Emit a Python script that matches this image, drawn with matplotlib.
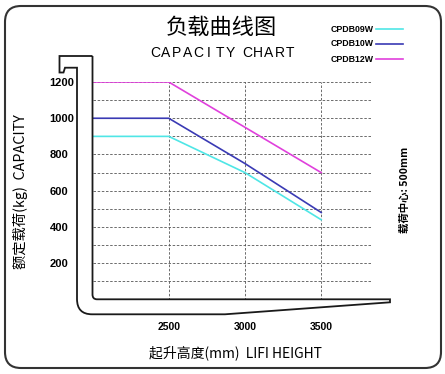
import matplotlib
matplotlib.use("Agg")
import matplotlib.pyplot as plt
from matplotlib.path import Path
from matplotlib.patches import PathPatch, FancyBboxPatch
from matplotlib import transforms

# data
heights_09 = [2000, 2500, 3000, 3500]
cap_09 = [900, 900, 700, 440]
heights_10 = [2000, 2500, 3000, 3500]
cap_10 = [1000, 1000, 750, 480]
heights_12 = [2000, 2500, 3500]
cap_12 = [1200, 1200, 700]
models = ["CPDB09W", "CPDB10W", "CPDB12W"]
x_ticks = [2500, 3000, 3500]
y_ticks = [200, 400, 600, 800, 1000, 1200]

C09 = "#4fe6e6"
C10 = "#3a3ab4"
C12 = "#e040dc"
CJK = ["Noto Sans CJK SC", "DejaVu Sans"]
LAT = ["Liberation Sans", "DejaVu Sans"]

W, H = 445, 374
fig = plt.figure(figsize=(W / 100, H / 100), dpi=100)
px = transforms.Affine2D().scale(1 / W, -1 / H).translate(0, 1) + fig.transFigure

ax = fig.add_axes([92.5 / W, (H - 299.5) / H, 279.5 / W, 217.5 / H])
ax.set_xlim(2000, 3833)
ax.set_ylim(0, 1200)
for s in ax.spines.values():
    s.set_visible(False)

# dashed grid
for yv in range(100, 1300, 100):
    ax.axhline(yv, color="#555555", ls=(0, (3, 2)), lw=0.6, zorder=1)
for xv in x_ticks + [3833]:
    ax.axvline(xv, color="#555555", ls=(0, (3, 2)), lw=0.6, zorder=1)

ax.plot(heights_09, cap_09, color=C09, lw=1.2, zorder=3)
ax.plot(heights_10, cap_10, color=C10, lw=1.2, zorder=3)
ax.plot(heights_12, cap_12, color=C12, lw=1.2, zorder=3)

ax.set_xticks(x_ticks)
ax.set_xticklabels([str(v) for v in x_ticks], family=LAT, fontweight="bold", fontsize=7.5)
ax.set_yticks(y_ticks)
ax.set_yticklabels([str(v) for v in y_ticks], family=LAT, fontweight="bold", fontsize=8,
                   ha="left")
ax.tick_params(axis="x", length=0, pad=16)
ax.tick_params(axis="y", length=0, pad=31)

# fork outline (decoration)
verts = [(92.5, 56), (59.5, 56), (59.5, 72.5), (63.5, 72.5), (65, 67.7), (77, 67.7),
         (77, 299), (77, 314.3), (92, 314.3), (225, 314.3), (390, 302.3), (390, 299.3),
         (97, 299.3), (92.5, 299.3), (92.5, 294.5), (92.5, 56)]
codes = [Path.MOVETO] + [Path.LINETO] * 6 + [Path.CURVE3, Path.CURVE3] + [Path.LINETO] * 4 \
        + [Path.CURVE3, Path.CURVE3, Path.LINETO]
fig.patches.append(PathPatch(Path(verts, codes), fill=False, lw=1.3, ec="#1a1a1a", transform=px))

# rounded frame
fig.patches.append(FancyBboxPatch((5, 6), 436, 362, boxstyle="round,pad=0,rounding_size=16",
                                  fill=False, lw=1.5, ec="#333333", transform=px))

# titles
fig.text(221 / W, 1 - 27 / H, "负载曲线图", family=CJK, fontsize=16, ha="center", va="center",
         fontweight="light")
# letter-spaced subtitle, one letter per slot
sub_x = 155
for word in ["CAPACITY", "CHART"]:
    for ch in word:
        fig.text(sub_x / W, 1 - 53 / H, ch, family=LAT, fontsize=10, ha="center", va="center")
        sub_x += 10.8
    sub_x += 5.6

# legend
for i, (name, col) in enumerate(zip(models, [C09, C10, C12])):
    yy = 29 + i * 15
    fig.text(331 / W, 1 - yy / H, name, family=LAT, fontweight="bold", fontsize=6.3,
             ha="left", va="center")
    fig.lines.append(plt.Line2D([376 / W, 403 / W], [1 - yy / H, 1 - yy / H], color=col,
                                lw=1.2, transform=fig.transFigure))

# axis labels
fig.text(235 / W, 1 - 353 / H, "起升高度(mm)  LIFI HEIGHT", family=CJK, fontsize=10,
         ha="center", va="center")
fig.text(20 / W, 1 - 192 / H, "额定载荷(kg)  CAPACITY", family=CJK, fontsize=10.3,
         ha="center", va="center", rotation=90)
fig.text(405 / W, 1 - 190 / H, "载荷中心: 500mm", family=CJK, fontweight="bold", fontsize=7.5,
         ha="center", va="center", rotation=90)

fig.savefig("out.png", dpi=100)
